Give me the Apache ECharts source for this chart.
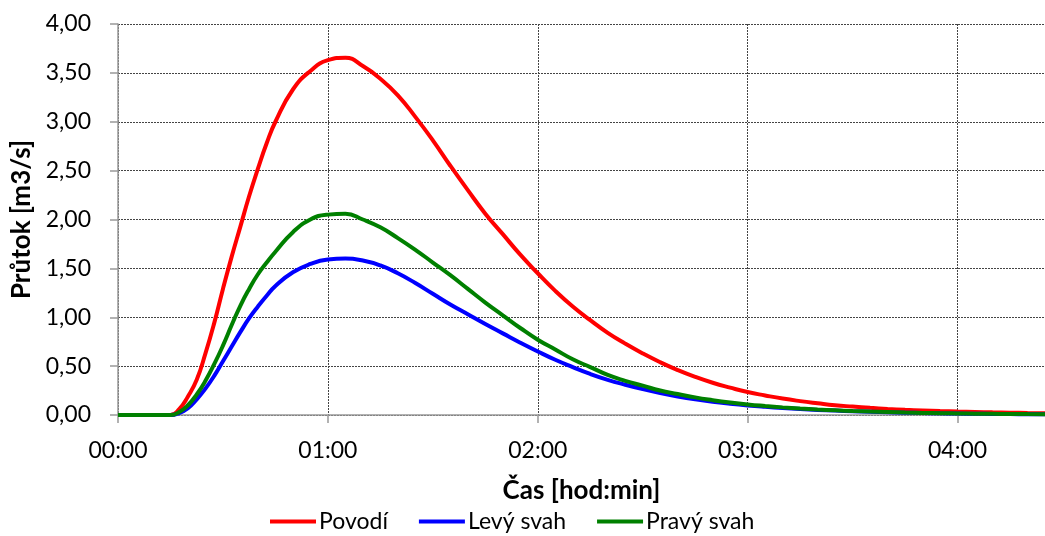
<!DOCTYPE html>
<html>
<head>
<meta charset="utf-8">
<script src="https://cdn.jsdelivr.net/npm/echarts@6/dist/echarts.min.js"></script>
<style>
html,body{margin:0;padding:0;background:#fff;}
#chart{width:1045px;height:536px;}
</style>
</head>
<body>
<div id="chart"></div>
<script>
// time in minutes from start
var timeMinutes = [0,5,10,15,17.5,20,22.5,25,27.5,30,32.5,35,37.5,40,42.5,
  45,50,55,60,65,70,75,80,85,90,95,100,105,110,115,120,125,130,135,140,145,150,155,160,
  165,170,175,180,185,190,195,200,205,210,215,220,225,230,235,240,245,250,255,260,265];

var povodi = [0,0,0,0,0.06,0.19,0.36,0.63,0.94,1.29,1.62,1.93,2.24,2.52,2.78,
  3.00,3.33,3.52,3.63,3.655,3.57,3.44,3.27,3.05,2.81,2.55,2.30,2.06,1.85,1.64,1.45,1.27,1.11,0.97,0.84,0.73,0.63,0.54,0.46,
  0.39,0.33,0.28,0.235,0.20,0.168,0.142,0.12,0.10,0.086,0.073,0.062,0.053,0.046,0.040,0.035,0.031,0.027,0.024,0.021,0.019];

var levySvah = [0,0,0,0,0.02,0.07,0.16,0.27,0.40,0.55,0.70,0.85,0.99,1.11,1.22,
  1.32,1.46,1.545,1.59,1.60,1.58,1.53,1.45,1.35,1.24,1.13,1.03,0.93,0.835,0.74,0.65,0.565,0.49,0.42,0.36,0.31,0.265,0.225,0.19,
  0.16,0.135,0.115,0.098,0.084,0.072,0.061,0.052,0.045,0.038,0.033,0.028,0.024,0.020,0.017,0.015,0.013,0.011,0.009,0.008,0.007];

var pravySvah = [0,0,0,0,0.03,0.10,0.21,0.35,0.52,0.71,0.92,1.12,1.29,1.44,1.56,
  1.67,1.87,2.00,2.05,2.06,2.00,1.92,1.81,1.69,1.56,1.43,1.29,1.15,1.02,0.89,0.77,0.67,0.57,0.49,0.41,0.35,0.30,0.25,0.215,
  0.18,0.152,0.128,0.108,0.092,0.078,0.066,0.056,0.048,0.041,0.035,0.030,0.025,0.021,0.018,0.016,0.014,0.012,0.010,0.009,0.008];

var seriesNames = ['Povodí','Levý svah','Pravý svah'];
var seriesColors = ['#FF0000','#0000FF','#008000'];
var xTitle = 'Čas [hod:min]';
var yTitle = 'Průtok [m3/s]';

function pad(n){ return (n < 10 ? '0' : '') + n; }
function pairs(vals){ return timeMinutes.map(function(t,i){ return [t, vals[i]]; }); }

var FONT = 'Lato';
var chart = echarts.init(document.getElementById('chart'), null, {renderer:'canvas'});
var gridLine = {show:true, lineStyle:{color:'#444', width:1, type:[2,1]}};

chart.setOption({
  animation:false,
  backgroundColor:'#fff',
  textStyle:{fontFamily:FONT, color:'#000'},
  grid:{left:118, right:0, top:24, bottom:121, containLabel:false},
  legend:{
    data:[seriesNames[0], seriesNames[1], seriesNames[2]],
    left:265, bottom:-2, itemWidth:46, itemHeight:4, itemGap:31,
    icon:'rect',
    textStyle:{fontFamily:FONT, fontSize:23, color:'#000', padding:[0,0,0,-2]}
  },
  xAxis:{
    type:'value', min:0, max:265, interval:60,
    name:xTitle, nameLocation:'middle', nameGap:63,
    nameTextStyle:{fontFamily:FONT, fontSize:26, fontWeight:'bold', color:'#000'},
    axisLine:{show:true, lineStyle:{color:'#999', width:1.5}},
    axisTick:{show:true, length:8, lineStyle:{color:'#999', width:1.5}},
    axisLabel:{fontFamily:FONT, fontSize:23, color:'#000', margin:24, showMaxLabel:false,
      formatter:function(v){ return pad(Math.floor(v/60)) + ':' + pad(v % 60); }},
    splitLine:gridLine
  },
  yAxis:{
    type:'value', min:0, max:4, interval:0.5,
    name:yTitle, nameLocation:'middle', nameGap:83, nameRotate:90,
    nameTextStyle:{fontFamily:FONT, fontSize:26, fontWeight:'bold', color:'#000'},
    axisLine:{show:true, lineStyle:{color:'#999', width:1.5}},
    axisTick:{show:true, length:8, lineStyle:{color:'#999', width:1.5}},
    axisLabel:{fontFamily:FONT, fontSize:23, color:'#000', margin:27,
      formatter:function(v){ return v.toFixed(2).replace('.', ','); }},
    splitLine:gridLine
  },
  series:[
    {name:seriesNames[0], type:'line', data:pairs(povodi), smooth:0.5, showSymbol:false,
     lineStyle:{color:seriesColors[0], width:4}, itemStyle:{color:seriesColors[0]}, z:2},
    {name:seriesNames[1], type:'line', data:pairs(levySvah), smooth:0.5, showSymbol:false,
     lineStyle:{color:seriesColors[1], width:4}, itemStyle:{color:seriesColors[1]}, z:3},
    {name:seriesNames[2], type:'line', data:pairs(pravySvah), smooth:0.5, showSymbol:false,
     lineStyle:{color:seriesColors[2], width:4}, itemStyle:{color:seriesColors[2]}, z:4}
  ]
});
</script>
</body>
</html>
